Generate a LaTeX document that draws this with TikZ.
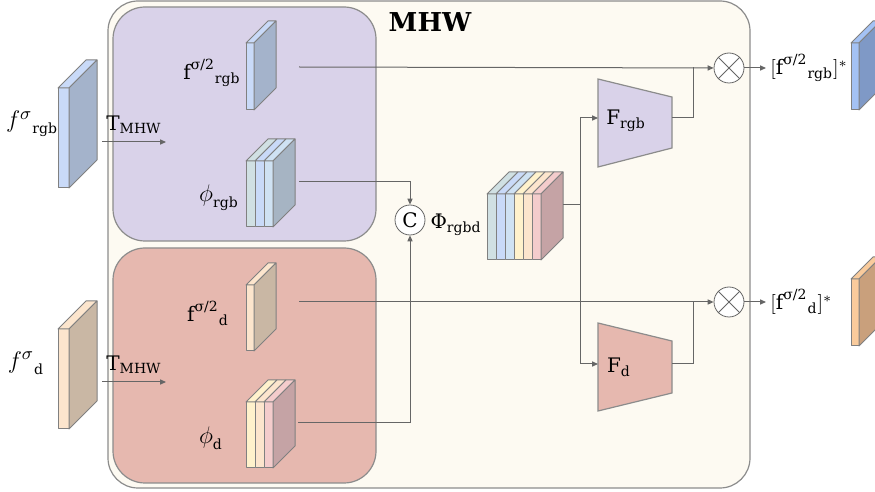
\documentclass[tikz,border=0pt]{standalone}
\usepackage{amsmath}
\usepackage{fontspec}
\setmainfont{DejaVu Serif}
\usetikzlibrary{arrows.meta, calc, positioning}

\definecolor{mhwcream}{HTML}{FDFAF2}
\definecolor{rgbpurple}{HTML}{D9D2E9}
\definecolor{dberry}{HTML}{E6B8AF}
\definecolor{cteal}{HTML}{D0E0E3}
\definecolor{ccorn}{HTML}{C9DAF8}
\definecolor{cblue}{HTML}{CFE2F3}
\definecolor{cyellow}{HTML}{FFF2CC}
\definecolor{corange}{HTML}{FCE5CD}
\definecolor{cred}{HTML}{F4CCCC}
\definecolor{sidergb}{HTML}{A4B3CB}
\definecolor{sided}{HTML}{C9B7A4}
\definecolor{sidephirgb}{HTML}{A6B4C3}
\definecolor{sidephid}{HTML}{C5A3A5}
\definecolor{outblue}{HTML}{A4C2F4}
\definecolor{outblueside}{HTML}{7F99C6}
\definecolor{outorange}{HTML}{F9CB9C}
\definecolor{outorangeside}{HTML}{C9A07C}

% bigger math letters next to DejaVu text
\newcommand{\bigsym}[1]{\text{\fontsize{13}{15}\selectfont$#1$}}

% feature map: name, x, y, layers, layer width, height, depth, front colours, side colour
\newcommand{\fmap}[9]{%
  \foreach \col [count=\i from 0] in {#8} {
    \draw[slab, fill=\col] (#2+\i*#5, #3) rectangle ++(#5, #6);
    \draw[slab, fill=\col] (#2+\i*#5, #3) -- ++(#7,-#7) -- ++(#5,0) -- ++(-#7,#7) -- cycle;
  }
  \coordinate (#1-fr) at (#2+#4*#5, #3);
  \draw[slab, fill=#9] (#1-fr) -- ++(#7,-#7) -- ++(0,#6) -- ++(-#7,#7) -- cycle;
}

\begin{document}
\begin{tikzpicture}[
    x=0.5pt, y=-0.5pt,
    every node/.style={inner sep=1pt, font=\fontsize{10}{12}\selectfont},
    boxline/.style={draw=black!45, line width=0.6pt},
    slab/.style={draw=black!50, line width=0.5pt, line join=round},
    plain/.style={draw=black!60, line width=0.5pt},
    link/.style={plain, -{Triangle[length=3pt, width=2.6pt]}},
    op/.style={circle, draw=black!60, fill=white, minimum size=15pt, inner sep=0pt},
]
\path[use as bounding box, clip] (0,0) rectangle (875,492);

% Boxes
\draw[boxline, fill=mhwcream, rounded corners=15pt] (108,1) rectangle (750,488);
\draw[boxline, fill=rgbpurple, rounded corners=16pt] (113,7) rectangle (376,241);
\draw[boxline, fill=dberry, rounded corners=16pt] (113,248) rectangle (376,483);
\node[font=\fontsize{13}{16}\selectfont\bfseries] (title) at (430,22) {MHW};

% Inputs
\fmap{frgb}{58}{88}{1}{11}{100}{28}{ccorn}{sidergb}
\fmap{fd}{58}{329}{1}{11}{100}{28}{corange}{sided}
\node (frgblab) at (32,124) {${\bigsym{f^{\sigma}}}_{\text{rgb}}$};
\node (fdlab) at (26,363) {${\bigsym{f^{\sigma}}}_{\text{d}}$};

% Column 2: inside the branches
\fmap{hrgb}{246}{43}{1}{8}{67}{22}{ccorn}{sidergb}
\fmap{phirgb}{246}{161}{3}{9}{66}{22}{cteal,ccorn,cblue}{sidephirgb}
\fmap{hd}{246}{285}{1}{8}{66}{22}{corange}{sided}
\fmap{phid}{246}{402}{3}{9}{66}{22}{cyellow,corange,cred}{sidephid}
\node (hrgblab) at (212,73) {${\text{f}^{\text{σ/2}}}_{\text{rgb}}$};
\node (phirgblab) at (219,198) {${\bigsym{\phi}}_{\text{rgb}}$};
\node (hdlab) at (208,313) {${\text{f}^{\text{σ/2}}}_{\text{d}}$};
\node (phidlab) at (211,438) {${\bigsym{\phi}}_{\text{d}}$};

% Concatenation
\node[op] (cat) at (410,220) {C};
\node (catlab) at (456,225) {$\text{Φ}_{\text{rgbd}}$};
\fmap{stack}{487}{194}{6}{9}{66}{22}{cteal,ccorn,cblue,cyellow,corange,cred}{sidephid}

% Weight nets
\draw[boxline, fill=rgbpurple] (598,79) -- (672,97) -- (672,148) -- (598,167) -- cycle;
\draw[boxline, fill=dberry] (598,323) -- (672,341) -- (672,393) -- (598,411) -- cycle;
\node (Frgb) at (626,121) {$\text{F}_{\text{rgb}}$};
\node (Fd) at (619,367) {$\text{F}_{\text{d}}$};

% Products and outputs
\node[op] (mulrgb) at (729,68) {};
\node[op] (muld) at (729,302) {};
\foreach \m in {mulrgb, muld} {
  \draw[plain] (\m.north west) -- (\m.south east);
  \draw[plain] (\m.north east) -- (\m.south west);
}
\node[anchor=west, inner sep=2pt] (outrgb) at (766,68) {$[{\text{f}^{\text{σ/2}}}_{\text{rgb}}]^{*}$};
\node[anchor=west, inner sep=2pt] (outd) at (766,302) {$[{\text{f}^{\text{σ/2}}}_{\text{d}}]^{*}$};
\fmap{orgb}{851}{43}{1}{8}{67}{22}{outblue}{outblueside}
\fmap{od}{851}{279}{1}{8}{67}{22}{outorange}{outorangeside}

% Coordinates
\coordinate (t1in) at (102,142);
\coordinate (t1out) at (166,142);
\coordinate (t2in) at (102,382);
\coordinate (t2out) at (166,382);
\coordinate (hrgbout) at (299,67);
\coordinate (phirgbout) at (299,182);
\coordinate (hdout) at (299,302);
\coordinate (phidout) at (298,423);
\coordinate (stackout) at (563,205);
\coordinate (split) at (580,205);
\coordinate (Frgbin) at (598,118);
\coordinate (Frgbout) at (672,118);
\coordinate (Fdin) at (598,364);
\coordinate (Fdout) at (672,364);
\coordinate (joinrgb) at (693,67);
\coordinate (joind) at (693,302);

% Edges
\draw[link] (t1in) -- (t1out) node[midway, above=3pt] (t1lab) {$\text{T}_{\text{MHW}}$};
\draw[link] (t2in) -- (t2out) node[midway, above=3pt] (t2lab) {$\text{T}_{\text{MHW}}$};
\draw[link] (hrgbout) -- (mulrgb);
\draw[link] (hdout) -- (muld);
\draw[link] (phirgbout) -| (cat);
\draw[link] (phidout) -| (cat);
\draw[plain] (stackout) -- (split);
\draw[link] (split) |- (Frgbin);
\draw[link] (split) |- (Fdin);
\draw[plain] (Frgbout) -| (joinrgb);
\draw[plain] (Fdout) -| (joind);
\draw[link] (mulrgb) -- (outrgb);
\draw[link] (muld) -- (outd);
\end{tikzpicture}
\end{document}
